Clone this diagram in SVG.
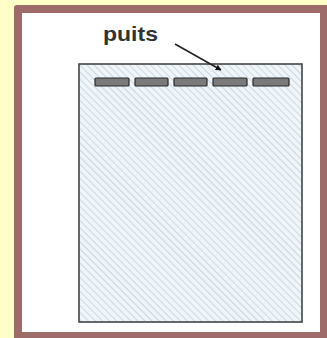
<svg xmlns="http://www.w3.org/2000/svg" width="327" height="338" viewBox="0 0 327 338">
<style>
.well{fill:#7a7a7a;stroke:#2a2a2a;stroke-width:1.2}
.lbl{font-family:"Liberation Sans",Arial,sans-serif;font-size:21px;font-weight:bold;fill:#333}
</style>
<defs>
<pattern id="hatch" patternUnits="userSpaceOnUse" width="5" height="5" patternTransform="rotate(-45)">
<rect width="5" height="5" fill="#eff5f9"/>
<line x1="0" y1="0" x2="0" y2="5" stroke="#ccd8e1" stroke-width="2"/>
</pattern>
<marker id="ah" viewBox="0 0 10 10" refX="9" refY="5" markerWidth="6" markerHeight="6" orient="auto" markerUnits="userSpaceOnUse">
<path d="M0,0 L10,5 L0,10 z" fill="#111"/>
</marker>
</defs>
<rect width="327" height="338" fill="#ffffc8"/>
<rect x="14" y="5" width="320" height="340" rx="3" fill="#9e6b6b"/>
<rect x="22" y="13" width="298" height="319" fill="#ffffff"/>
<g id="gel">
<rect x="79" y="64" width="223" height="258" fill="url(#hatch)" stroke="#444" stroke-width="1.6"/>
</g>
<g id="wells">
<rect class="well" x="95" y="78" width="34" height="8" rx="1"/>
<rect class="well" x="135" y="78" width="33" height="8" rx="1"/>
<rect class="well" x="174" y="78" width="33" height="8" rx="1"/>
<rect class="well" x="213" y="78" width="34" height="8" rx="1"/>
<rect class="well" x="253" y="78" width="36" height="8" rx="1"/>
</g>
<g id="label">
<text class="lbl" x="103" y="41" textLength="55" lengthAdjust="spacingAndGlyphs">puits</text>
</g>
<g id="connectors">
<line x1="175" y1="44" x2="221" y2="70" stroke="#222" stroke-width="1.6" marker-end="url(#ah)"/>
</g>
</svg>
